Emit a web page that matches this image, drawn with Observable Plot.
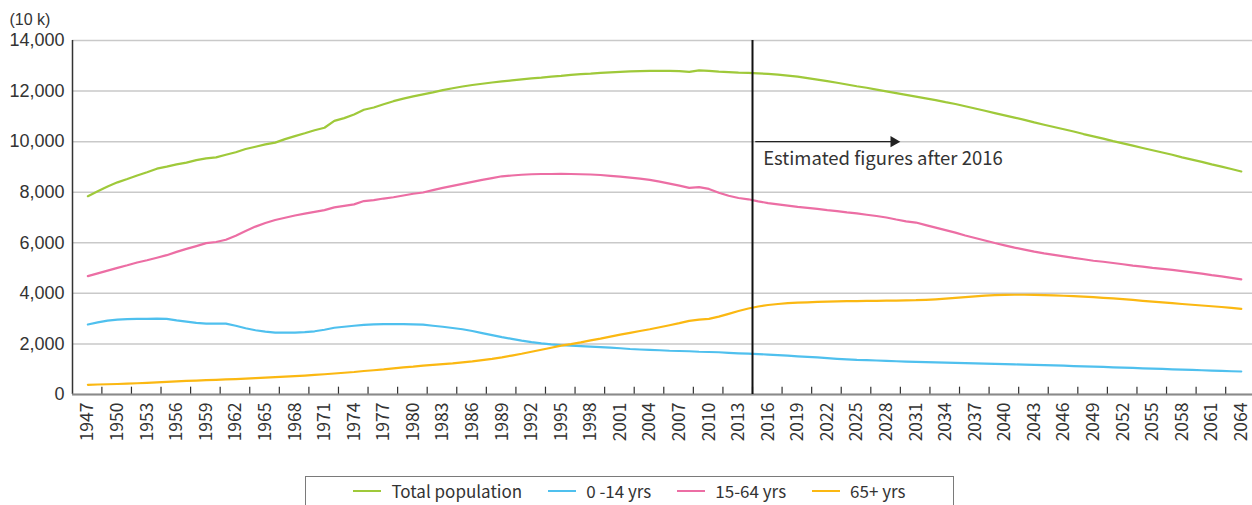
<!DOCTYPE html>
<html>
<head>
<meta charset="utf-8">
<script src="https://cdn.jsdelivr.net/npm/d3@7"></script>
<script src="https://cdn.jsdelivr.net/npm/@observablehq/plot@0.6"></script>
<style>
  html, body { margin: 0; padding: 0; background: #fff; overflow: hidden; }
  #wrap { position: relative; width: 1252px; height: 505px; }
  #legend {
    position: absolute; left: 305px; top: 476px; width: 649px; height: 40px;
    border: 1px solid #7a7a7a; box-sizing: border-box;
    display: flex; justify-content: center; align-items: flex-start; padding-top: 1px;
    font-family: "Noto Sans CJK JP", "Noto Sans", sans-serif; font-size: 17px; color: #333;
  }
  .item { display: flex; align-items: center; margin: 0 13px; }
  .sw { width: 28px; height: 2px; margin-right: 10px; }
</style>
</head>
<body>
<div id="wrap">
  <div id="chart"></div>
  <div id="legend"></div>
</div>
<script>
// ---- data (10 k persons) ----
const years = d3.range(1947, 2065);            // 1947 ... 2064
const labelYears = d3.range(1947, 2065, 3);    // axis labels
const tickYears = d3.range(1948.42, 2063, 3);  // tick marks between label groups
const yTicks = [0, 2000, 4000, 6000, 8000, 10000, 12000, 14000];
const seriesNames = ["Total population", "0 -14 yrs", "15-64 yrs", "65+ yrs"];
const seriesColors = ["#9fc93a", "#4fc0ee", "#ec6ea4", "#fbb812"];

const total = [
  7842, 8040, 8230, 8390, 8520, 8660, 8790, 8930, 9010, 9100,
  9170, 9270, 9340, 9380, 9480, 9580, 9710, 9800, 9890, 9960,
  10100, 10220, 10330, 10450, 10550, 10820, 10930, 11070, 11260, 11350,
  11480, 11600, 11700, 11790, 11870, 11950, 12040, 12110, 12180, 12240,
  12290, 12340, 12380, 12420, 12460, 12500, 12530, 12570, 12600, 12640,
  12670, 12690, 12720, 12740, 12760, 12780, 12790, 12795, 12800, 12795,
  12790, 12760, 12820, 12800, 12770, 12750, 12730, 12720, 12700, 12680,
  12650, 12610, 12570, 12510, 12450, 12390, 12330, 12260, 12190, 12130,
  12060, 11990, 11920, 11850, 11780, 11710, 11640, 11560, 11490, 11400,
  11310, 11220, 11130, 11040, 10950, 10860, 10760, 10670, 10580, 10490,
  10400, 10300, 10210, 10120, 10020, 9930, 9840, 9750, 9660, 9570,
  9480, 9380, 9290, 9200, 9100, 9010, 8920, 8820
];
const age0to14 = [
  2770, 2850, 2920, 2960, 2980, 2990, 2990, 3000, 2990, 2930,
  2880, 2830, 2800, 2800, 2800, 2720, 2620, 2540, 2490, 2450,
  2450, 2450, 2470, 2500, 2560, 2640, 2680, 2720, 2750, 2770,
  2780, 2780, 2780, 2770, 2760, 2720, 2680, 2630, 2580, 2510,
  2430, 2350, 2270, 2200, 2130, 2070, 2020, 1980, 1950, 1930,
  1910, 1890, 1875, 1850, 1830, 1800, 1780, 1765, 1750, 1730,
  1720, 1710, 1690, 1680, 1670, 1650, 1630, 1615, 1600, 1580,
  1560, 1535, 1510, 1490, 1465, 1435, 1410, 1390, 1370, 1360,
  1345, 1330, 1315, 1300, 1290, 1280, 1270, 1260, 1250, 1240,
  1230, 1220, 1210, 1200, 1190, 1180, 1170, 1160, 1150, 1140,
  1125, 1110, 1100, 1090, 1075, 1060, 1050, 1035, 1025, 1010,
  995, 980, 970, 960, 945, 935, 920, 910
];
const age15to64 = [
  4680, 4790, 4900, 5010, 5110, 5220, 5310, 5410, 5510, 5640,
  5760, 5870, 5985, 6030, 6120, 6280, 6470, 6640, 6780, 6900,
  6990, 7080, 7150, 7220, 7290, 7400, 7460, 7520, 7650, 7690,
  7750, 7800, 7870, 7940, 7990, 8080, 8170, 8250, 8330, 8410,
  8490, 8560, 8630, 8660, 8690, 8710, 8720, 8720, 8730, 8720,
  8710, 8700, 8680, 8650, 8620, 8580, 8540, 8490, 8420, 8340,
  8260, 8170, 8200, 8130, 7980, 7860, 7770, 7720, 7640, 7570,
  7520, 7470, 7420, 7380, 7340, 7290, 7250, 7200, 7160, 7110,
  7060, 7000, 6920, 6850, 6800, 6700, 6600, 6500, 6400, 6290,
  6190, 6090, 5990, 5900, 5810, 5730, 5650, 5580, 5520, 5460,
  5400, 5350, 5290, 5250, 5200, 5150, 5100, 5060, 5010, 4970,
  4930, 4880, 4830, 4780, 4720, 4670, 4610, 4550
];
const age65plus = [
  384, 395, 405, 415, 430, 445, 460, 480, 500, 520,
  535, 550, 565, 580, 595, 610, 630, 650, 670, 690,
  710, 730, 750, 775, 800, 830, 860, 890, 930, 960,
  990, 1030, 1070, 1100, 1140, 1170, 1200, 1230, 1270, 1310,
  1360, 1410, 1470, 1540, 1610, 1690, 1770, 1850, 1930, 1990,
  2060, 2140, 2210, 2290, 2370, 2440, 2510, 2580, 2660, 2740,
  2820, 2910, 2960, 2990, 3080, 3190, 3300, 3400, 3480, 3540,
  3580, 3610, 3630, 3645, 3660, 3670, 3680, 3690, 3695, 3700,
  3705, 3710, 3715, 3725, 3730, 3745, 3765, 3790, 3820, 3850,
  3880, 3910, 3930, 3940, 3945, 3945, 3940, 3930, 3920, 3905,
  3890, 3870, 3850, 3825, 3800, 3770, 3740, 3705, 3670, 3640,
  3610, 3580, 3550, 3520, 3490, 3460, 3425, 3390
];

// annotation
const estimateStart = [2014.42];
const arrowSpan = [{x1: 2014.75, x2: 2028.7, y: 10000}];
const arrowHead = [{x: 2028.75, y: 10000}];
const noteText = [{x: 2015.5, y: 9330, text: "Estimated figures after 2016"}];
const unitLabel = ["(10 k)"];

// ---- build table ----
const valueSets = [total, age0to14, age15to64, age65plus];
const rows = [];
seriesNames.forEach((name, i) => {
  years.forEach((yr, j) => rows.push({series: name, year: yr, value: valueSets[i][j]}));
});

const xDomain = [1945.44, 2065.14];

const chart = Plot.plot({
  width: 1252,
  height: 470,
  marginLeft: 72,
  marginRight: 0,
  marginTop: 40,
  marginBottom: 76,
  style: {fontFamily: "'Noto Sans CJK JP', 'Noto Sans', sans-serif", fontSize: "17px", color: "#333", background: "#fff", overflow: "visible"},
  x: {domain: xDomain, label: null},
  y: {domain: [0, 14000], label: null},
  color: {domain: seriesNames, range: seriesColors},
  marks: [
    Plot.gridY(yTicks, {stroke: "#c9c9c9", strokeOpacity: 1, strokeWidth: 1.5}),
    Plot.axisY(yTicks, {tickSize: 0, tickPadding: 8, tickFormat: d3.format(","), fontSize: 18, fontFamily: "'Liberation Sans', sans-serif", label: null}),
    Plot.axisX(labelYears, {tickSize: 0, tickRotate: -90, tickPadding: 8, tickFormat: d => String(d), fontSize: 17.5, label: null}),
    Plot.text(unitLabel, {frameAnchor: "top-left", lineAnchor: "middle", dx: -63, dy: -21, textAnchor: "start", fontSize: 16, fontFamily: "'Liberation Sans', sans-serif", fill: "#333"}),
    Plot.ruleX([xDomain[0]], {y1: 0, y2: 14000, stroke: "#333", strokeWidth: 1.5}),
    Plot.ruleX(tickYears, {x: d => d, y1: 0, y2: 290, stroke: "#333", strokeWidth: 1.2}),
    Plot.ruleY([0], {stroke: "#8a8a8a", strokeWidth: 2}),
    Plot.line(rows, {x: "year", y: "value", z: "series", stroke: "series", strokeWidth: 2.2}),
    Plot.ruleX(estimateStart, {x: d => d, y1: 0, y2: 14000, stroke: "#111", strokeWidth: 2}),
    Plot.ruleY(arrowSpan, {x1: "x1", x2: "x2", y: "y", stroke: "#222", strokeWidth: 1.3}),
    Plot.dot(arrowHead, {x: "x", y: "y", symbol: "triangle", rotate: 90, r: 4.2, fill: "#222", stroke: null}),
    Plot.text(noteText, {x: "x", y: "y", text: "text", textAnchor: "start", fontSize: 18.5, fill: "#333"})
  ]
});
document.getElementById("chart").appendChild(chart);

// ---- legend ----
const legend = document.getElementById("legend");
seriesNames.forEach((name, i) => {
  const item = document.createElement("div");
  item.className = "item";
  const sw = document.createElement("span");
  sw.className = "sw";
  sw.style.background = seriesColors[i];
  const label = document.createElement("span");
  label.textContent = name;
  item.appendChild(sw);
  item.appendChild(label);
  legend.appendChild(item);
});
</script>
</body>
</html>
